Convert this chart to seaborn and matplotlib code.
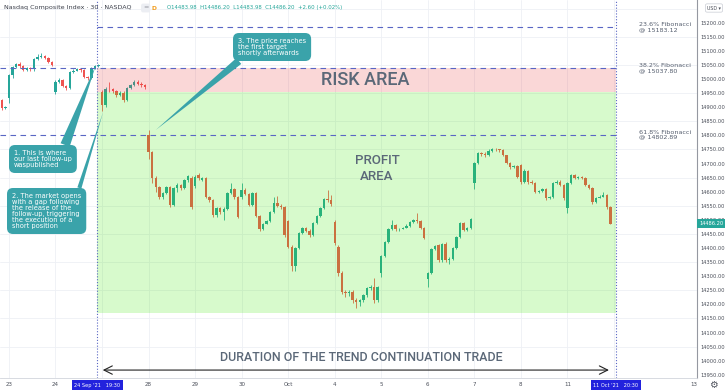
import numpy as np
import pandas as pd
import matplotlib
matplotlib.use("Agg")
import matplotlib.pyplot as plt
from matplotlib.patches import Rectangle
import seaborn as sns

# ---------------- data (30m bars, NASDAQ Composite) ----------------
first_bar = -3          # last bars of 22 Sep still on screen
bars_per_day = 13
day_labels = ["23", "24", "27", "28", "29", "30", "Oct", "4", "5", "6", "7", "8", "11", "12"]
hidden_days = ["27", "12"]   # sit under the blue time markers
future_label = ("13", 191.3)  # TradingView squeezes the future-side label next to the scale

opens = [
    14940, 14926, 14897,
    14933, 15014, 15043, 15053, 15046, 15032, 15039, 15036, 15070, 15080, 15082, 15076, 15062,
    14954, 14990, 14997, 14975, 14968, 15025, 15030, 15035, 15032, 15007, 15004, 15039, 15046,
    14955, 14908, 14965, 14963, 14957, 14945, 14952, 14927, 14968, 14979, 14990, 14984, 14978,
    14800, 14741, 14649, 14617, 14581, 14595, 14617, 14553, 14613, 14624, 14613, 14642, 14650,
    14620, 14659, 14642, 14648, 14581, 14571, 14517, 14542, 14528, 14539, 14595, 14610, 14581,
    14580, 14606, 14592, 14552, 14595, 14514, 14468, 14486, 14496, 14528, 14560, 14550, 14546,
    14496, 14404, 14336, 14400, 14454, 14471, 14462, 14447, 14489, 14514, 14542, 14574, 14571,
    14493, 14404, 14312, 14244, 14240, 14244, 14216, 14208, 14214, 14233, 14258, 14262, 14216,
    14312, 14372, 14422, 14468, 14482, 14466, 14468, 14472, 14478, 14493, 14498, 14496, 14471,
    14290, 14312, 14397, 14411, 14358, 14414, 14358, 14362, 14400, 14440, 14489, 14464, 14470,
    14631, 14702, 14737, 14735, 14730, 14745, 14752, 14750, 14748, 14730, 14702, 14688, 14690,
    14695, 14634, 14675, 14634, 14632, 14599, 14601, 14610, 14578, 14580, 14631, 14636, 14624,
    14542, 14631, 14659, 14649, 14652, 14650, 14624, 14613, 14563, 14578, 14583, 14588, 14546,
]
closes = [
    14870, 14897, 14900,
    15014, 15043, 15053, 15046, 15032, 15039, 15036, 15070, 15080, 15082, 15076, 15062, 15050,
    14990, 14997, 14975, 14968, 15025, 15030, 15035, 15032, 15007, 15004, 15039, 15046, 15050,
    14908, 14965, 14963, 14957, 14945, 14952, 14927, 14968, 14979, 14990, 14984, 14978, 14970,
    14741, 14649, 14617, 14581, 14595, 14617, 14553, 14613, 14624, 14613, 14642, 14655, 14546,
    14652, 14649, 14648, 14581, 14571, 14517, 14542, 14528, 14539, 14595, 14610, 14581, 14510,
    14606, 14592, 14552, 14595, 14514, 14468, 14486, 14496, 14528, 14560, 14550, 14546, 14447,
    14404, 14336, 14400, 14454, 14471, 14462, 14447, 14489, 14514, 14542, 14574, 14571, 14556,
    14418, 14312, 14244, 14240, 14244, 14216, 14208, 14214, 14233, 14258, 14262, 14216, 14262,
    14372, 14422, 14468, 14482, 14466, 14468, 14472, 14478, 14493, 14498, 14496, 14471, 14436,
    14312, 14397, 14408, 14358, 14414, 14358, 14362, 14400, 14440, 14489, 14464, 14470, 14503,
    14702, 14737, 14735, 14730, 14745, 14752, 14750, 14748, 14730, 14702, 14688, 14690, 14652,
    14634, 14675, 14634, 14632, 14599, 14601, 14610, 14578, 14580, 14631, 14636, 14624, 14578,
    14631, 14659, 14649, 14652, 14650, 14624, 14613, 14563, 14578, 14583, 14588, 14546, 14486.20,
]
highs = [
    14948, 14930, 14905,
    15018, 15048, 15058, 15060, 15050, 15044, 15042, 15074, 15090, 15092, 15084, 15078, 15064,
    14995, 15005, 15000, 14980, 15028, 15036, 15040, 15040, 15036, 15012, 15042, 15050, 15055,
    14960, 14972, 14990, 14968, 14960, 14956, 14956, 14972, 14984, 14995, 14996, 14990, 14982,
    14819, 14745, 14655, 14622, 14600, 14620, 14622, 14616, 14630, 14628, 14646, 14660, 14655,
    14658, 14665, 14652, 14652, 14585, 14575, 14545, 14546, 14545, 14598, 14630, 14614, 14585,
    14630, 14612, 14596, 14600, 14600, 14518, 14490, 14500, 14532, 14580, 14585, 14556, 14550,
    14500, 14410, 14404, 14458, 14476, 14475, 14466, 14492, 14518, 14546, 14578, 14606, 14590,
    14500, 14410, 14318, 14252, 14250, 14250, 14222, 14218, 14238, 14262, 14270, 14294, 14266,
    14376, 14426, 14472, 14500, 14485, 14472, 14476, 14484, 14496, 14502, 14525, 14500, 14475,
    14316, 14400, 14412, 14414, 14418, 14420, 14368, 14404, 14444, 14492, 14492, 14474, 14508,
    14706, 14741, 14742, 14740, 14750, 14756, 14756, 14752, 14750, 14732, 14705, 14695, 14694,
    14700, 14680, 14678, 14640, 14636, 14605, 14614, 14614, 14585, 14634, 14640, 14640, 14628,
    14636, 14664, 14662, 14656, 14656, 14654, 14628, 14616, 14582, 14588, 14600, 14592, 14550,
]
lows = [
    14855, 14890, 14892,
    14915, 15005, 15038, 15040, 15028, 15028, 15030, 15030, 15066, 15075, 15070, 15058, 15045,
    14948, 14985, 14970, 14960, 14965, 15022, 15028, 15026, 15002, 14998, 15000, 15036, 15042,
    14888, 14900, 14955, 14950, 14938, 14940, 14920, 14922, 14965, 14975, 14978, 14972, 14966,
    14715, 14630, 14600, 14575, 14575, 14592, 14545, 14548, 14600, 14605, 14608, 14636, 14540,
    14612, 14642, 14638, 14576, 14562, 14510, 14512, 14522, 14500, 14535, 14592, 14575, 14505,
    14575, 14588, 14548, 14548, 14510, 14462, 14464, 14484, 14494, 14525, 14545, 14540, 14440,
    14400, 14320, 14318, 14396, 14450, 14456, 14440, 14444, 14486, 14510, 14538, 14562, 14550,
    14410, 14300, 14236, 14226, 14230, 14205, 14187, 14195, 14210, 14228, 14250, 14205, 14210,
    14297, 14368, 14418, 14465, 14462, 14462, 14466, 14470, 14476, 14490, 14490, 14468, 14432,
    14262, 14308, 14394, 14352, 14352, 14352, 14345, 14356, 14396, 14436, 14460, 14460, 14466,
    14610, 14698, 14728, 14725, 14726, 14742, 14744, 14742, 14726, 14698, 14680, 14684, 14648,
    14628, 14630, 14628, 14626, 14594, 14594, 14598, 14572, 14574, 14576, 14628, 14620, 14570,
    14525, 14626, 14645, 14645, 14646, 14620, 14608, 14558, 14560, 14576, 14580, 14540, 14483.98,
]

fib_levels = [15183.12, 15037.80, 14802.89]
fib_names = ["23.6% Fibonacci", "38.2% Fibonacci", "61.8% Fibonacci"]
entry_price = 14955        # lower edge of the risk zone
target_price = 14170       # lower edge of the profit zone
trade_start = 24.7         # 24 Sep '21 19:30
trade_end = 169.5          # 11 Oct '21 20:30
last_price = 14486.20

# ---------------- style ----------------
sns.set_theme(style="white")
plt.rcParams["font.family"] = ["DejaVu Sans"]

UP, DOWN = "#26a69a", "#ef5350"
FIB = "#5966c4"
TEAL = "#3aa3aa"
GREY_TXT = "#5b6878"
W, H = 728, 391

fig = plt.figure(figsize=(W / 100, H / 100), dpi=100)
fig.patch.set_facecolor("white")
ax = fig.add_axes([0, 13 / H, 697 / W, 378 / H])
ax.set_facecolor("white")

df = pd.DataFrame({"open": opens, "high": highs, "low": lows, "close": closes})
df["bar"] = np.arange(first_bar, first_bar + len(df))
colors = np.where(df["close"] >= df["open"], UP, DOWN)

ax.vlines(df["bar"], df["low"], df["high"], colors=colors, lw=0.6, zorder=3)
body_lo = df[["open", "close"]].min(axis=1)
body_h = (df["close"] - df["open"]).abs().clip(lower=2.5)
ax.bar(df["bar"], body_h, bottom=body_lo, width=0.68, color=colors, lw=0, zorder=4)

ax.set_xlim(-2.5, 192.2)
ax.set_ylim(13938.7, 15280.6)

# grid
day_pos = [i * bars_per_day for i in range(len(day_labels))]
for p in day_pos:
    ax.axvline(p, color="#eef0f5", lw=0.6, zorder=0)
for lvl in np.arange(14050, 15300, 100):
    ax.axhline(lvl, color="#eef0f5", lw=0.6, zorder=0)

# risk / profit zones
ax.add_patch(Rectangle((trade_start, entry_price), trade_end - trade_start,
                       fib_levels[1] - entry_price, fc=(0.9, 0.22, 0.22), alpha=0.2, lw=0, zorder=5))
ax.add_patch(Rectangle((trade_start, target_price), trade_end - trade_start,
                       entry_price - target_price, fc=(0.22, 0.9, 0.0), alpha=0.2, lw=0, zorder=5))

# fibonacci levels
ax.hlines(fib_levels[0], trade_start, trade_end, color=FIB, lw=0.8, ls=(0, (5, 4)), zorder=6)
ax.hlines(fib_levels[1:], -2.5, trade_end, color=FIB, lw=0.8, ls=(0, (5, 4)), zorder=6)
for lvl, name in zip(fib_levels, fib_names):
    ax.text(176, lvl, f"{name}\n@ {lvl:.2f}", fontsize=4.6, color="#555e6e",
            ha="left", va="center", linespacing=1.0, zorder=7)

for x in (trade_start, trade_end):
    ax.axvline(x, color=FIB, lw=0.8, ls=(0, (1, 1.6)), zorder=6)

# zone labels
big = ["Roboto", "DejaVu Sans"]
ax.text(0.524, 0.788, "RISK AREA", transform=ax.transAxes, fontsize=13, color=GREY_TXT,
        ha="center", va="center", family=big, weight="medium", zorder=7)
ax.text(0.541, 0.553, "PROFIT\nAREA", transform=ax.transAxes, fontsize=9.5, color=GREY_TXT,
        ha="center", va="center", family=big, weight="medium", linespacing=1.3, zorder=7)
ax.text(0.518, 0.053, "DURATION OF THE TREND CONTINUATION TRADE", transform=ax.transAxes,
        fontsize=9.0, color=GREY_TXT, ha="center", va="center", family=big, weight="medium", zorder=7)
ax.annotate("", xy=(167.6, 0.021), xytext=(26.2, 0.021),
            xycoords=("data", "axes fraction"), textcoords=("data", "axes fraction"),
            arrowprops=dict(arrowstyle="<->,head_length=0.5,head_width=0.25",
                            color="#222222", lw=0.8, shrinkA=0, shrinkB=0), zorder=7)

# callouts
box = dict(boxstyle="round,pad=0.75,rounding_size=0.9", fc=TEAL, ec="none")
callouts = [
    ("1. This is where\nour last follow-up\nwaspublished", (24.3, 15050), (14, 391 - 159), (0.85, 1.0), 0.7),
    ("2. The market opens\nwith a gap following\nthe release of the\nfollow-up, triggering\nthe execution of a\nshort position",
     (26.3, 14883), (12, 391 - 211), (0.95, 1.0), 0.3),
    ("3. The price reaches\nthe first target\nshortly afterwards", (41, 14819), (238, 391 - 47), (0.1, 0.0), 0.55),
]
for txt, tip, pos, rel, tw in callouts:
    ax.annotate(txt, xy=tip, xycoords="data", xytext=pos, textcoords="figure pixels",
                fontsize=4.8, color="white", ha="left", va="center", linespacing=1.0,
                bbox=box, zorder=8,
                arrowprops=dict(arrowstyle=f"wedge,tail_width={tw}", mutation_scale=10,
                                fc=TEAL, ec="none", lw=0, relpos=rel, shrinkA=0, shrinkB=0))

# axes / ticks
ax.yaxis.tick_right()
ax.set_yticks(np.arange(13950, 15201, 50))
ax.set_yticklabels([f"{v:.2f}" for v in np.arange(13950, 15201, 50)])
shown = [(p, l) for p, l in zip(day_pos, day_labels) if l not in hidden_days]
shown.append((future_label[1], future_label[0]))
ax.set_xticks([p for p, _ in shown])
ax.set_xticklabels([l for _, l in shown])
ax.tick_params(axis="y", length=0, pad=2.6, labelsize=3.7, labelcolor="#4a4e59")
ax.tick_params(axis="x", length=0, pad=3.0, labelsize=4.0, labelcolor="#4a4e59")
for s in ("top", "left"):
    ax.spines[s].set_visible(False)
ax.spines["right"].set_color("#9598a1")
ax.spines["right"].set_linewidth(0.8)
ax.spines["bottom"].set_color("#d1d4dc")
ax.spines["bottom"].set_linewidth(0.6)

# last price tag
ax.annotate(f"{last_price:.2f}", xy=(1, last_price), xycoords=("axes fraction", "data"),
            xytext=(1.4, 0), textcoords="offset points", ha="left", va="center",
            fontsize=3.7, color="white", annotation_clip=False, zorder=9,
            bbox=dict(boxstyle="square,pad=0.4", fc=UP, ec="none"))

# blue time markers
for x, lab in ((trade_start, "24 Sep '21   19:30"), (trade_end, "11 Oct '21   20:30")):
    ax.annotate(lab, xy=(x, 0), xycoords=("data", "axes fraction"), xytext=(0, -5.2),
                textcoords="offset points", ha="center", va="center", fontsize=3.6,
                color="white", annotation_clip=False, zorder=9,
                bbox=dict(boxstyle="square,pad=0.45", fc="#2222dd", ec="none"))

# header
def fpx(x, y):
    return x / W, 1 - y / H

fig.text(*fpx(4, 8), "Nasdaq Composite Index · 30 · NASDAQ", fontsize=4.6, color="#3b3f4a", va="center")
fig.text(*fpx(143, 8), "=", fontsize=4.6, color="#8a8d96", va="center",
         bbox=dict(boxstyle="round,pad=0.3", fc="#eceef3", ec="none"))
fig.text(*fpx(151, 8), "D", fontsize=4.4, color="#f29d1e", va="center", weight="bold")
fig.text(*fpx(167, 8), "O14483.98  H14486.20  L14483.98  C14486.20  +2.60 (+0.02%)",
         fontsize=3.9, color=UP, va="center")
fig.text(*fpx(714, 8), "USD ▾", fontsize=3.4, color="#4a4e59", ha="center", va="center",
         bbox=dict(boxstyle="round,pad=0.35", fc="white", ec="#c9ccd4", lw=0.5))
fig.text(*fpx(713, 385), "⚙", fontsize=7, color="#50535e", ha="center", va="center")

fig.savefig("out.png", dpi=100)
